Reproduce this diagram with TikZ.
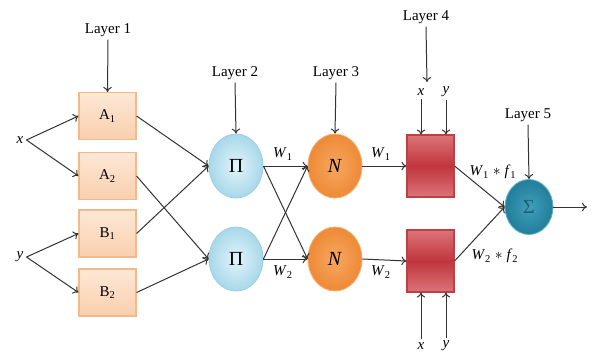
\documentclass[tikz,border=0pt]{standalone}
\usepackage{fontspec}
\setmainfont{Liberation Serif}
\usetikzlibrary{arrows.meta,calc,shapes.geometric}
\definecolor{linec}{HTML}{333333}
\definecolor{fuzzA}{HTML}{FDE8D6}
\definecolor{fuzzB}{HTML}{F9CFAE}
\definecolor{fuzzD}{HTML}{F5B889}
\definecolor{prodI}{HTML}{E2F3F9}
\definecolor{prodO}{HTML}{A8D8EA}
\definecolor{prodD}{HTML}{9CCFE2}
\definecolor{normI}{HTML}{F6A760}
\definecolor{normO}{HTML}{EE8A36}
\definecolor{normD}{HTML}{F4AE70}
\definecolor{redE}{HTML}{DB7478}
\definecolor{redM}{HTML}{C0353D}
\definecolor{redD}{HTML}{BF3F46}
\definecolor{sumI}{HTML}{3FA0BB}
\definecolor{sumO}{HTML}{237D9B}
\definecolor{sumD}{HTML}{62B5CC}
\definecolor{sigc}{HTML}{1D5F78}
\begin{document}
\begin{tikzpicture}[x=0.7pt,y=-0.7pt,
  font=\fontsize{10.5}{12}\selectfont,
  conn/.style={draw=linec, line width=0.7pt, -{To[length=3.5pt,width=6pt]}},
  lbl/.style={inner sep=2pt},
  fuzz/.style={rectangle, minimum width=39.9pt, minimum height=32.9pt, draw=fuzzD, line width=0.8pt, top color=fuzzA, bottom color=fuzzB, inner sep=0pt},
  prodn/.style={ellipse, minimum width=37.8pt, minimum height=44.8pt, draw=prodD, line width=0.6pt, inner color=prodI, outer color=prodO, inner sep=0pt},
  normn/.style={ellipse, minimum width=37.8pt, minimum height=44.8pt, draw=normD, line width=0.6pt, inner color=normI, outer color=normO, inner sep=0pt},
  rulen/.style={rectangle, minimum width=32.9pt, minimum height=43.4pt, draw=redD, line width=0.8pt, top color=redE, bottom color=redE, middle color=redM, inner sep=0pt},
  sumn/.style={ellipse, minimum width=33.6pt, minimum height=38.5pt, draw=sumD, line width=0.6pt, inner color=sumI, outer color=sumO, inner sep=0pt},
  big/.style={font=\fontsize{14}{15}\selectfont}]
\useasboundingbox (0,0) rectangle (593,356);

% Layer 1
\node[lbl] (L1) at (108,30) {Layer 1};
\node[fuzz] (A1) at (107.5,116) {A\textsubscript{1}};
\node[fuzz] (A2) at (107.5,176) {A\textsubscript{2}};
\node[fuzz] (B1) at (107.5,233.5) {B\textsubscript{1}};
\node[fuzz] (B2) at (107.5,292.5) {B\textsubscript{2}};
\node[lbl] (xin) at (20,140) {\textit{x}};
\node[lbl] (yin) at (20,257) {\textit{y}};
\draw[conn] (L1.south) -- (A1.north);
\draw[conn] (xin.east) -- (A1.west);
\draw[conn] (xin.east) -- (A2.west);
\draw[conn] (yin.east) -- (B1.west);
\draw[conn] (yin.east) -- (B2.west);

% Layer 2
\node[lbl] (L2) at (235,73) {Layer 2};
\node[prodn, big] (P1) at (236,166) {Π};
\node[prodn, big] (P2) at (236,259) {Π};
\draw[conn] (L2.south) -- (P1.north);
\draw[conn] (A1.east) -- (P1.west);
\draw[conn] (B1.east) -- (P1.west);
\draw[conn] (A2.east) -- (P2.west);
\draw[conn] (B2.east) -- (P2.west);

% Layer 3
\node[lbl] (L3) at (336,73) {Layer 3};
\node[normn, big] (N1) at (335,166) {\textit{N}};
\node[normn, big] (N2) at (335,259) {\textit{N}};
\draw[conn] (L3.south) -- (N1.north);
\draw[conn] (P1.east) -- (N1.west);
\draw[conn] (P2.east) -- (N2.west);
\draw[conn] (P1.east) -- (N2.west);
\draw[conn] (P2.east) -- (N1.west);
\node[lbl] (w1a) at (283,154) {\textit{W}\textsubscript{1}};
\node[lbl] (w2a) at (283,272) {\textit{W}\textsubscript{2}};

% Layer 4
\node[lbl] (L4) at (426,17) {Layer 4};
\node[rulen] (R1) at (430.5,166) {};
\node[rulen] (R2) at (430.5,261) {};
\node[lbl] (xt) at (421,92) {\textit{x}};
\node[lbl] (yt) at (446,92) {\textit{y}};
\coordinate (c4) at (427,82);
\draw[conn] (L4.south) -- (c4);
\draw[conn] (xt.south) -- (xt.south |- R1.north);
\draw[conn] (yt.south) -- (yt.south |- R1.north);
\node[lbl] (xb) at (421,346) {\textit{x}};
\node[lbl] (yb) at (446,346) {\textit{y}};
\draw[conn] (xb.north) -- (xb.north |- R2.south);
\draw[conn] (yb.north) -- (yb.north |- R2.south);
\draw[conn] (N1.east) -- (R1.west);
\draw[conn] (N2.east) -- (R2.west);
\node[lbl] (w1b) at (381,154) {\textit{W}\textsubscript{1}};
\node[lbl] (w2b) at (381,272) {\textit{W}\textsubscript{2}};

% Layer 5
\node[lbl] (L5) at (528,115) {Layer 5};
\node[sumn, big] (S) at (529,207) {\color{sigc}Σ};
\draw[conn] (L5.south) -- (S.north);
\draw[conn] (R1.east) -- (S.west);
\draw[conn] (R2.east) -- (S.west);
\node[lbl] (wf1) at (493,172) {\textit{W}\textsubscript{1} $*$ \textit{f}\textsubscript{1}};
\node[lbl] (wf2) at (495,256) {\textit{W}\textsubscript{2} $*$ \textit{f}\textsubscript{2}};
\coordinate (out) at (587,207);
\draw[conn] (S.east) -- (out);
\end{tikzpicture}
\end{document}
